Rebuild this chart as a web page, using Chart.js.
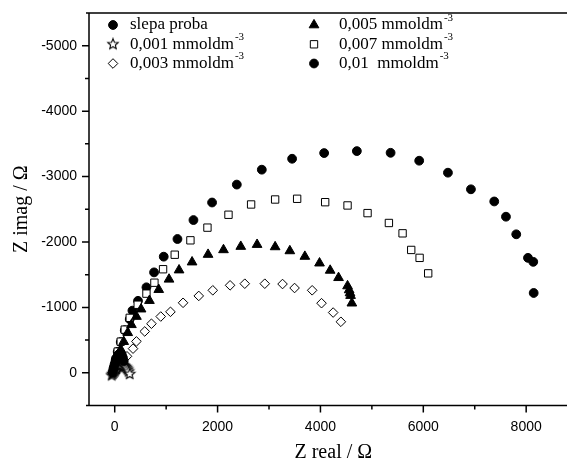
<!DOCTYPE html>
<html>
<head>
<meta charset="utf-8">
<script src="https://cdn.jsdelivr.net/npm/chart.js@4.4.1/dist/chart.umd.min.js"></script>
<style>
  html, body { margin: 0; padding: 0; background: #fff; overflow: hidden; }
  canvas { display: block; }
</style>
</head>
<body>
<canvas id="nyquist" width="590" height="465"></canvas>
<script>
// Nyquist plots, Z real / Z imag in ohm (imag is negative, plotted upward)
const blankRe = [-40, -30, -20, -5, 10, 25, 45, 65, 90, 115, 140, 160, 175];
const blankIm = [0, -40, -80, -120, -160, -200, -240, -270, -290, -290, -270, -230, -180];

const c001Re = [-60, -40, -20, 0, 15, 30, 50, 70, 90, 110, 130, 150, 170, 190, 210, 230, 250, 270, 290];
const c001Im = [40, 20, 0, -20, -40, -60, -80, -95, -105, -115, -120, -120, -115, -105, -90, -70, -50, -20, 20];

const c003Re = [20, 58, 97, 156, 239, 356, 422, 584, 714, 895, 1084, 1329, 1634, 1907, 2243, 2529, 2918, 3263, 3497, 3839, 4021, 4247, 4397];
const c003Im = [-35, -65, -110, -170, -252, -369, -480, -632, -750, -860, -932, -1070, -1175, -1261, -1337, -1362, -1362, -1357, -1296, -1261, -1064, -921, -780];

const c005Re = [0, 20, 39, 78, 117, 175, 253, 325, 422, 512, 675, 856, 1056, 1251, 1504, 1815, 2115, 2451, 2768, 3119, 3405, 3697, 3982, 4189, 4352, 4527, 4558, 4575, 4586, 4611];
const c005Im = [-35, -80, -158, -250, -355, -476, -612, -734, -860, -973, -1103, -1271, -1429, -1570, -1692, -1808, -1879, -1930, -1960, -1924, -1863, -1778, -1676, -1565, -1453, -1327, -1266, -1220, -1180, -1064];

const c007Re = [-20, 0, 20, 58, 117, 195, 292, 447, 617, 772, 940, 1167, 1472, 1803, 2212, 2652, 3119, 3547, 4092, 4527, 4916, 5331, 5597, 5765, 5928, 6095];
const c007Im = [-40, -110, -200, -324, -476, -660, -840, -1040, -1210, -1377, -1583, -1805, -2025, -2219, -2416, -2573, -2649, -2660, -2608, -2558, -2441, -2290, -2132, -1878, -1757, -1520];

const c01Re = [-10, 5, 20, 58, 117, 195, 292, 344, 453, 617, 765, 953, 1220, 1531, 1893, 2374, 2860, 3449, 4072, 4708, 5364, 5920, 6479, 6926, 7379, 7607, 7807, 8035, 8138, 8146];
const c01Im = [-40, -110, -200, -320, -470, -650, -820, -950, -1100, -1307, -1535, -1775, -2045, -2335, -2603, -2877, -3105, -3272, -3359, -3389, -3363, -3242, -3059, -2805, -2619, -2386, -2117, -1757, -1696, -1220];

const seriesNames = ["slepa proba", "0,001 mmoldm", "0,003 mmoldm", "0,005 mmoldm", "0,007 mmoldm", "0,01  mmoldm"];
const seriesSup = ["", "-3", "-3", "-3", "-3", "-3"];

const xTicks = [0, 2000, 4000, 6000, 8000];
const xMinor = [1000, 3000, 5000, 7000];
const yTicks = [0, -1000, -2000, -3000, -4000, -5000];
const yMinor = [-500, -1500, -2500, -3500, -4500];

// hollow five-point star, Chart.js has none
function makeStar(r) {
  const c = document.createElement("canvas");
  const s = Math.ceil(r * 2 + 3);
  c.width = s;
  c.height = s;
  const g = c.getContext("2d");
  g.beginPath();
  for (let i = 0; i < 10; i++) {
    const a = -Math.PI / 2 + (i * Math.PI) / 5;
    const rr = i % 2 ? r * 0.45 : r;
    g.lineTo(s / 2 + rr * Math.cos(a), s / 2 + rr * Math.sin(a));
  }
  g.closePath();
  g.fillStyle = "#fff";
  g.fill();
  g.strokeStyle = "#000";
  g.lineWidth = 1.1;
  g.stroke();
  return c;
}
const starImg = makeStar(5.5);

const toPoints = (re, im) => re.map((v, i) => ({ x: v, y: im[i] }));

const styles = [
  { pointStyle: "circle", radius: 4.4, fill: "#000" },
  { pointStyle: starImg, radius: 5.5, fill: "#fff" },
  { pointStyle: "rectRot", radius: 4.8, fill: "#fff" },
  { pointStyle: "triangle", radius: 5.6, fill: "#000" },
  { pointStyle: "rect", radius: 5.2, fill: "#fff" },
  { pointStyle: "circle", radius: 4.4, fill: "#000" },
];

const allData = [
  toPoints(blankRe, blankIm),
  toPoints(c001Re, c001Im),
  toPoints(c003Re, c003Im),
  toPoints(c005Re, c005Im),
  toPoints(c007Re, c007Im),
  toPoints(c01Re, c01Im),
];

const datasets = allData.map((d, i) => ({
  label: seriesNames[i],
  data: d,
  showLine: false,
  pointStyle: styles[i].pointStyle,
  pointRadius: styles[i].radius,
  pointBackgroundColor: styles[i].fill,
  pointBorderColor: "#000",
  pointBorderWidth: 1,
}));

// frame, tick marks and the legend inside the plot
const framePlugin = {
  id: "frame",
  afterDraw(chart) {
    const { ctx, chartArea: a, scales } = chart;
    const x = scales.x, y = scales.y;
    ctx.save();
    ctx.strokeStyle = "#000";
    ctx.lineWidth = 1.5;
    ctx.beginPath();
    ctx.moveTo(a.left - 3, a.top);
    ctx.lineTo(a.right, a.top);
    ctx.moveTo(a.left, a.top);
    ctx.lineTo(a.left, a.bottom);
    ctx.moveTo(a.left - 3, a.bottom);
    ctx.lineTo(a.right, a.bottom);
    ctx.moveTo(a.right, a.top);
    ctx.lineTo(a.right, a.bottom);
    xTicks.forEach((v) => {
      const px = x.getPixelForValue(v);
      ctx.moveTo(px, a.bottom);
      ctx.lineTo(px, a.bottom + 7);
    });
    xMinor.forEach((v) => {
      const px = x.getPixelForValue(v);
      ctx.moveTo(px, a.bottom);
      ctx.lineTo(px, a.bottom + 4);
    });
    yTicks.forEach((v) => {
      const py = y.getPixelForValue(v);
      ctx.moveTo(a.left, py);
      ctx.lineTo(a.left - 7, py);
    });
    yMinor.forEach((v) => {
      const py = y.getPixelForValue(v);
      ctx.moveTo(a.left, py);
      ctx.lineTo(a.left - 4, py);
    });
    ctx.stroke();

    // legend: two columns of three
    const colMark = [113, 314];
    const colText = [130, 339];
    const rowY = [25, 44.3, 63.5];
    ctx.textBaseline = "middle";
    seriesNames.forEach((name, i) => {
      const col = Math.floor(i / 3), row = i % 3;
      const st = styles[i];
      ctx.lineWidth = 1;
      ctx.fillStyle = st.fill;
      ctx.strokeStyle = "#000";
      Chart.helpers.drawPoint(ctx, { pointStyle: st.pointStyle, radius: st.radius, rotation: 0, borderWidth: 1 }, colMark[col], rowY[row]);
      ctx.fillStyle = "#000";
      ctx.font = '17px "Liberation Serif"';
      ctx.fillText(name, colText[col], rowY[row]);
      if (seriesSup[i]) {
        const w = ctx.measureText(name).width;
        ctx.font = '11px "Liberation Serif"';
        ctx.fillText(seriesSup[i], colText[col] + w + 1, rowY[row] - 7);
      }
    });
    ctx.restore();
  },
};

new Chart(document.getElementById("nyquist"), {
  type: "scatter",
  data: { datasets },
  options: {
    responsive: false,
    animation: false,
    layout: { padding: { top: 13, right: 12.4, left: 0, bottom: 0 } },
    plugins: { legend: { display: false }, tooltip: { enabled: false } },
    scales: {
      x: {
        type: "linear",
        min: -500,
        max: 9000,
        afterBuildTicks: (s) => { s.ticks = xTicks.map((v) => ({ value: v })); },
        afterFit: (s) => { s.height = 59.5; },
        grid: { drawOnChartArea: false, tickLength: 8, tickColor: "transparent" },
        border: { display: false },
        ticks: {
          padding: 5,
          color: "#000",
          autoSkip: false,
          maxRotation: 0,
          font: { family: "Liberation Sans", size: 14 },
          callback: (v) => String(v),
        },
        title: {
          display: true,
          text: "Z real / Ω",
          color: "#000",
          font: { family: "Liberation Serif", size: 20 },
          padding: { top: 0, bottom: 0 },
        },
      },
      y: {
        type: "linear",
        reverse: true,
        min: -5500,
        max: 500,
        afterBuildTicks: (s) => { s.ticks = yTicks.map((v) => ({ value: v })); },
        afterFit: (s) => { s.width = 89; },
        grid: { drawOnChartArea: false, tickLength: 8, tickColor: "transparent" },
        border: { display: false },
        ticks: {
          padding: 4,
          color: "#000",
          autoSkip: false,
          font: { family: "Liberation Sans", size: 14 },
          callback: (v) => String(v),
        },
        title: {
          display: true,
          text: "Z imag / Ω",
          color: "#000",
          font: { family: "Liberation Serif", size: 20 },
          padding: { top: 10, bottom: 0 },
        },
      },
    },
  },
  plugins: [framePlugin],
});
</script>
</body>
</html>
